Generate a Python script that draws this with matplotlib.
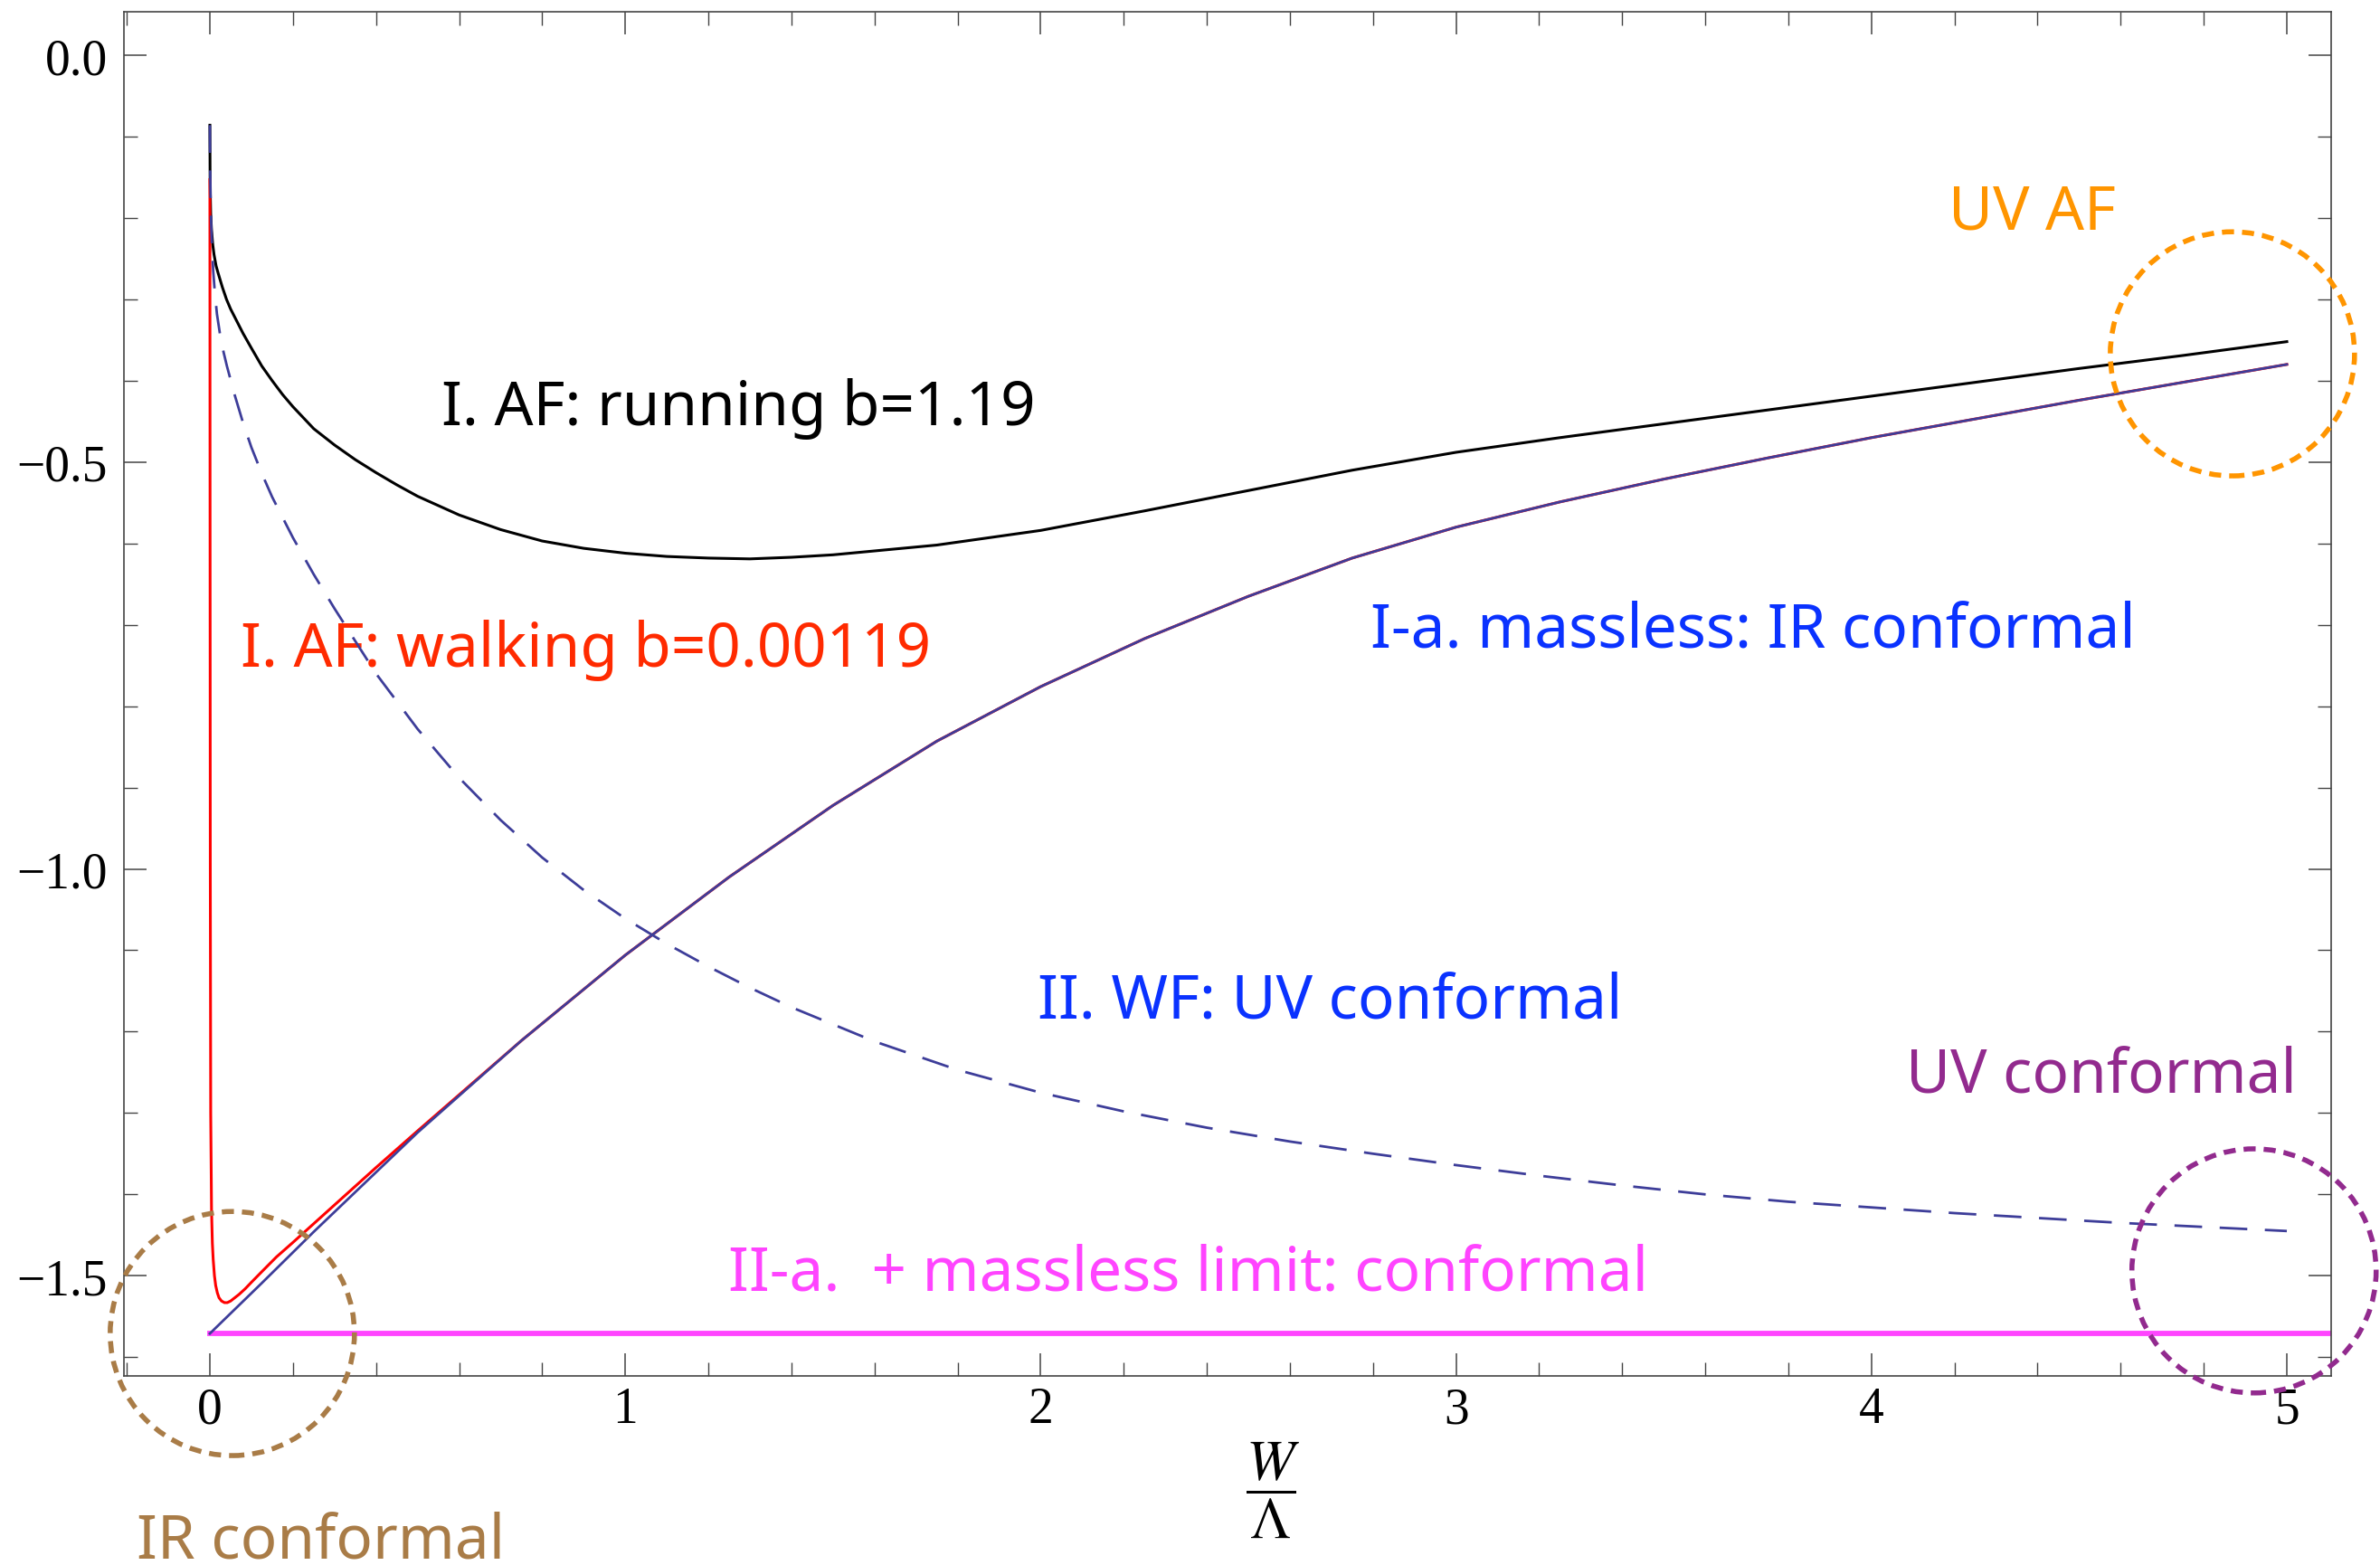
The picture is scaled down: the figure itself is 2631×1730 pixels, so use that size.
import matplotlib.pyplot as plt
from matplotlib.patches import Ellipse
import numpy as np

plt.rcParams['mathtext.fontset'] = 'stix'

# curves, x = W / Lambda
# I. AF running (black)
run_x = [0.0, 0.0005, 0.001, 0.002, 0.004, 0.007, 0.010, 0.015, 0.02, 0.03, 0.04, 0.05, 0.06, 0.08,
         0.10, 0.125, 0.15, 0.175, 0.2, 0.25, 0.3, 0.35, 0.4, 0.45, 0.5, 0.6, 0.7, 0.8, 0.9, 1.0,
         1.1, 1.2, 1.3, 1.4, 1.5, 1.75, 2.0, 2.25, 2.5, 2.75, 3.0, 3.25, 3.5, 3.75, 4.0, 4.25,
         4.5, 4.75, 5.0]
run_y = [-0.086, -0.15, -0.17, -0.195, -0.215, -0.233, -0.245, -0.259, -0.268, -0.285, -0.300, -0.312, -0.322, -0.342,
         -0.360, -0.382, -0.400, -0.417, -0.432, -0.459, -0.479, -0.497, -0.513, -0.528, -0.542, -0.565, -0.583, -0.597, -0.606, -0.612,
         -0.616, -0.618, -0.619, -0.617, -0.614, -0.602, -0.584, -0.560, -0.535, -0.510, -0.488, -0.470, -0.453, -0.436, -0.419, -0.402,
         -0.385, -0.369, -0.352]

# I. AF walking (red)
walk_x = [0.0, 0.0005, 0.001, 0.002, 0.004, 0.006, 0.008, 0.011, 0.014, 0.018, 0.022, 0.028, 0.035, 0.042,
          0.05, 0.06, 0.07, 0.085, 0.1, 0.125, 0.16, 0.2, 0.25, 0.3, 0.4, 0.5, 0.75, 1.0, 1.25, 1.5,
          1.75, 2.0, 2.25, 2.5, 2.75, 3.0, 3.25, 3.5, 3.75, 4.0, 4.25, 4.5, 4.75, 5.0]
walk_y = [-0.153, -0.6, -1.0, -1.3, -1.42, -1.46, -1.48, -1.50, -1.512, -1.521, -1.527, -1.531, -1.533, -1.533,
          -1.531, -1.527, -1.523, -1.516, -1.508, -1.495, -1.477, -1.459, -1.436, -1.413, -1.367, -1.322, -1.211, -1.106, -1.010, -0.922,
          -0.843, -0.776, -0.717, -0.665, -0.618, -0.580, -0.549, -0.521, -0.495, -0.470, -0.447, -0.424, -0.402, -0.380]

# I-a. massless (blue solid)
mless_x = [0.0, 0.125, 0.25, 0.375, 0.5, 0.75, 1.0, 1.25, 1.5, 1.75, 2.0, 2.25, 2.5, 2.75, 3.0, 3.25,
           3.5, 3.75, 4.0, 4.25, 4.5, 4.75, 5.0]
mless_y = [-1.571, -1.509, -1.446, -1.385, -1.324, -1.211, -1.106, -1.010, -0.922, -0.843, -0.776, -0.717, -0.665, -0.618, -0.580, -0.549,
           -0.521, -0.495, -0.470, -0.447, -0.424, -0.402, -0.380]

# II. WF (blue dashed)
wf_x = [0.0, 0.0005, 0.001, 0.002, 0.003, 0.005, 0.008, 0.012, 0.017, 0.025, 0.033, 0.041, 0.06, 0.08,
        0.10, 0.125, 0.15, 0.2, 0.25, 0.3, 0.4, 0.5, 0.6, 0.7, 0.8, 0.9, 1.0, 1.1, 1.2, 1.3, 1.4,
        1.6, 1.8, 2.0, 2.2, 2.4, 2.6, 2.8, 3.0, 3.2, 3.4, 3.6, 3.8, 4.0, 4.2, 4.4, 4.6, 4.8, 5.0]
wf_y = [-0.086, -0.13, -0.15, -0.18, -0.205, -0.235, -0.265, -0.292, -0.318, -0.345, -0.365, -0.382, -0.418, -0.452,
        -0.482, -0.514, -0.543, -0.593, -0.638, -0.680, -0.760, -0.828, -0.888, -0.940, -0.986, -1.026, -1.061, -1.092, -1.120, -1.146, -1.170,
        -1.212, -1.247, -1.275, -1.298, -1.318, -1.335, -1.350, -1.364, -1.377, -1.389, -1.400, -1.409, -1.416, -1.423, -1.429, -1.435, -1.440, -1.445]

# II-a. massless limit (magenta)
conf_x = [0.0, 5.107]
conf_y = [-1.571, -1.571]

x_ticks = [0, 1, 2, 3, 4, 5]
x_labels = ['0', '1', '2', '3', '4', '5']
y_ticks = [0.0, -0.5, -1.0, -1.5]
y_labels = ['0.0', '\u22120.5', '\u22121.0', '\u22121.5']

# labels: text, x, y, colour
notes = [
    ('I. AF: running b=1.19', 0.557, -0.453, '#000000'),
    ('I. AF: walking b=0.00119', 0.074, -0.750, '#FF2A00'),
    ('I-a. massless: IR conformal', 2.794, -0.726, '#0A32FF'),
    ('II. WF: UV conformal', 1.993, -1.182, '#0A32FF'),
    ('UV conformal', 4.083, -1.274, '#922A8E'),
    ('UV AF', 4.186, -0.213, '#FF9500'),
    ('II-a.  + massless limit: conformal', 1.248, -1.517, '#FF44FF'),
    ('IR conformal', -0.176, -1.846, '#A97C47'),
]

# dotted rings: centre x, centre y, colour
rings_x = [4.869, 4.921, 0.054]
rings_y = [-0.367, -1.494, -1.571]
rings_c = ['#FF9500', '#922A8E', '#A97C47']

fig = plt.figure(figsize=(26.31, 17.31), dpi=100)
ax = fig.add_axes([137 / 2631, 209 / 1731, 2440 / 2631, 1508 / 1731])

ax.plot(conf_x, conf_y, color='#FF44FF', lw=4.2, zorder=2)
ax.plot(run_x, run_y, color='black', lw=2.2, zorder=3)
ax.plot(walk_x, walk_y, color='#FF0000', lw=2.2, zorder=4)
ax.plot(mless_x, mless_y, color='#3D3D99', lw=2.0, zorder=5)
ax.plot(wf_x, wf_y, color='#3D3D99', lw=2.0, ls=(0, (11, 7)), zorder=6)

for cx, cy, c in zip(rings_x, rings_y, rings_c):
    ax.add_patch(Ellipse((cx, cy), 0.588, 0.300, fill=False, edgecolor=c, lw=4.0,
                         ls=(0, (2.4, 1.6)), clip_on=False, zorder=7))

for txt, tx, ty, c in notes:
    ax.text(tx, ty, txt, color=c, fontsize=48.5, family=['Noto Sans', 'DejaVu Sans'],
            ha='left', va='baseline', clip_on=False)

ax.set_xlim(-0.2069, 5.1067)
ax.set_ylim(-1.6231, 0.0534)
ax.set_xticks(x_ticks)
ax.set_xticklabels(x_labels)
ax.set_xticks(np.arange(-0.2, 5.01, 0.2), minor=True)
ax.set_yticks(y_ticks)
ax.set_yticklabels(y_labels)
ax.set_yticks(np.arange(-1.6, 0.01, 0.1), minor=True)

ax.tick_params(which='both', direction='in', top=True, right=True, color='#444444',
               labelsize=40, labelfontfamily='Liberation Serif')
ax.tick_params(which='major', length=18, width=1.1)
ax.tick_params(which='minor', length=10.5, width=1.0)
ax.tick_params(axis='x', pad=8)
ax.tick_params(axis='y', pad=13)
for s in ax.spines.values():
    s.set_color('#444444')
    s.set_linewidth(1.2)

ax.set_xlabel(r'$\dfrac{W}{\Lambda}$', fontsize=46)
ax.xaxis.set_label_coords(0.5205, -0.0829)
ax.xaxis.label.set_va('center')

fig.savefig('out.png', dpi=100)
